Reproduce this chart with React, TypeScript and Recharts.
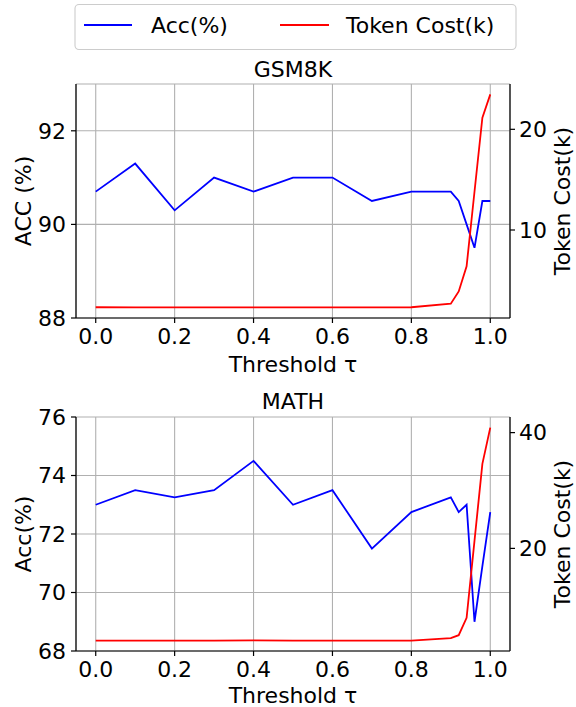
import { LineChart, Line, CartesianGrid, XAxis, YAxis } from "recharts";

const thresholds = [0, 0.1, 0.2, 0.3, 0.4, 0.5, 0.6, 0.7, 0.8, 0.9, 0.92, 0.94, 0.96, 0.98, 1.0];

const gsmAcc = [90.7, 91.3, 90.3, 91.0, 90.7, 91.0, 91.0, 90.5, 90.7, 90.7, 90.5, 90.0, 89.5, 90.5, 90.5];
const gsmCost = [2.33, 2.32, 2.31, 2.31, 2.32, 2.31, 2.32, 2.32, 2.33, 2.68, 3.9, 6.4, 13.8, 21.15, 23.47];

const mathAcc = [73.0, 73.5, 73.25, 73.5, 74.5, 73.0, 73.5, 71.5, 72.75, 73.25, 72.75, 73.0, 69.0, 70.9, 72.75];
const mathCost = [4.06, 4.06, 4.06, 4.05, 4.1, 4.07, 4.06, 4.06, 4.07, 4.48, 5.0, 8.0, 21.3, 34.6, 40.87];

const xTicks = [0, 0.2, 0.4, 0.6, 0.8, 1.0];

const FONT = "DejaVu Sans";
const tickStyle = { fontFamily: FONT, fontSize: 22, fill: "#000" };

type PanelProps = {
  acc: number[];
  cost: number[];
  accDomain: [number, number];
  accTicks: number[];
  costDomain: [number, number];
  costTicks: number[];
};

const Panel = ({ acc, cost, accDomain, accTicks, costDomain, costTicks }: PanelProps) => {
  const data = thresholds.map((x, i) => ({ x, acc: acc[i], cost: cost[i] }));
  return (
    <LineChart width={576} height={374} data={data} margin={{ top: 84, right: 0, bottom: 0, left: 0 }}>
      <CartesianGrid yAxisId="left" stroke="#b0b0b0" strokeWidth={1.1} />
      <XAxis
        dataKey="x"
        type="number"
        domain={[-0.05, 1.05]}
        ticks={xTicks}
        allowDataOverflow
        interval={0}
        tickFormatter={(v: number) => v.toFixed(1)}
        height={56}
        tickSize={5}
        tickMargin={5}
        tick={tickStyle}
        stroke="#000"
        strokeWidth={1.2}
      />
      <XAxis
        xAxisId="top"
        orientation="top"
        dataKey="x"
        type="number"
        domain={[-0.05, 1.05]}
        height={0}
        tick={false}
        tickLine={false}
        stroke="#000"
        strokeWidth={1.2}
      />
      <YAxis
        yAxisId="left"
        domain={accDomain}
        ticks={accTicks}
        allowDataOverflow
        interval={0}
        width={76}
        tickSize={5}
        tickMargin={5}
        tick={tickStyle}
        stroke="#000"
        strokeWidth={1.2}
      />
      <YAxis
        yAxisId="right"
        orientation="right"
        domain={costDomain}
        ticks={costTicks}
        allowDataOverflow
        interval={0}
        width={66}
        tickSize={5}
        tickMargin={4}
        tick={tickStyle}
        stroke="#000"
        strokeWidth={1.2}
      />
      {/* accuracy in blue, token cost in red on the twin axis */}
      <Line
        yAxisId="left"
        dataKey="acc"
        type="linear"
        stroke="#0000ff"
        strokeWidth={1.8}
        dot={false}
        isAnimationActive={false}
      />
      <Line
        yAxisId="right"
        dataKey="cost"
        type="linear"
        stroke="#ff0000"
        strokeWidth={1.8}
        dot={false}
        isAnimationActive={false}
      />
    </LineChart>
  );
};

const textStyle = { fontFamily: FONT, fontSize: 22, fill: "#000" };

const App = () => {
  return (
    <div
      style={{
        position: "absolute",
        left: 0,
        top: 0,
        width: 576,
        height: 707,
        overflow: "hidden",
        background: "#fff",
      }}
    >
      <div style={{ position: "absolute", left: 0, top: 0 }}>
        <Panel
          acc={gsmAcc}
          cost={gsmCost}
          accDomain={[88, 93]}
          accTicks={[88, 90, 92]}
          costDomain={[1.26, 24.5]}
          costTicks={[10, 20]}
        />
      </div>
      <div style={{ position: "absolute", left: 0, top: 333 }}>
        <Panel
          acc={mathAcc}
          cost={mathCost}
          accDomain={[68, 76]}
          accTicks={[68, 70, 72, 74, 76]}
          costDomain={[2.27, 42.7]}
          costTicks={[20, 40]}
        />
      </div>
      <svg
        width={576}
        height={707}
        style={{ position: "absolute", left: 0, top: 0, pointerEvents: "none" }}
      >
        {/* legend */}
        <rect x={75} y={4.5} width={441} height={45} rx={4} fill="#fff" fillOpacity={0.8} stroke="#cccccc" strokeWidth={1.1} />
        <line x1={84} y1={25} x2={132} y2={25} stroke="#0000ff" strokeWidth={1.8} />
        <text x={151} y={33} {...textStyle}>Acc(%)</text>
        <line x1={280} y1={25} x2={329} y2={25} stroke="#ff0000" strokeWidth={1.8} />
        <text x={346} y={33} {...textStyle}>Token Cost(k)</text>

        {/* titles */}
        <text x={293} y={76.6} textAnchor="middle" {...textStyle}>GSM8K</text>
        <text x={293} y={409.3} textAnchor="middle" {...textStyle}>MATH</text>

        {/* x axis titles */}
        <text x={293} y={371.5} textAnchor="middle" {...textStyle}>Threshold τ</text>
        <text x={293} y={703} textAnchor="middle" {...textStyle}>Threshold τ</text>

        {/* y axis titles */}
        <text transform="translate(30.5,201) rotate(-90)" textAnchor="middle" {...textStyle}>ACC (%)</text>
        <text transform="translate(570,201) rotate(-90)" textAnchor="middle" {...textStyle}>Token Cost(k)</text>
        <text transform="translate(30.5,534) rotate(-90)" textAnchor="middle" {...textStyle}>Acc(%)</text>
        <text transform="translate(570,534) rotate(-90)" textAnchor="middle" {...textStyle}>Token Cost(k)</text>
      </svg>
    </div>
  );
};

export default App;
